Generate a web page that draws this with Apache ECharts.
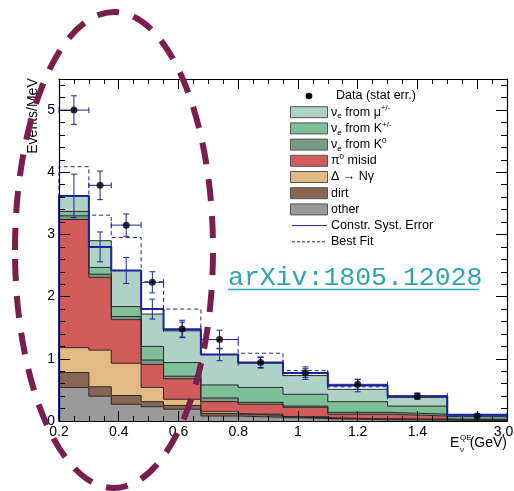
<!DOCTYPE html>
<html>
<head>
<meta charset="utf-8">
<script src="https://cdn.jsdelivr.net/npm/echarts@6/dist/echarts.min.js"></script>
<style>
  html, body { margin: 0; padding: 0; background: #fff; }
  #chart { width: 514px; height: 491px; }
</style>
</head>
<body>
<div id="chart"></div>
<script>
// bin edges in GeV, the last bin (1.5 - 3.0) is squeezed on the axis
var binEdges = [0.2, 0.3, 0.375, 0.475, 0.55, 0.675, 0.8, 0.95, 1.1, 1.3, 1.5, 3.0];

// stacked predictions, events/MeV, bottom to top
var otherVals = [0.54, 0.40, 0.27, 0.23, 0.19, 0.08, 0.06, 0.04, 0.02, 0.015, 0.005];
var dirtVals  = [0.24, 0.15, 0.14, 0.08, 0.06, 0.04, 0.03, 0.015, 0.01, 0.01, 0.003];
var deltaVals = [0.40, 0.59, 0.52, 0.23, 0.10, 0.03, 0.02, 0.015, 0.005, 0.005, 0.002];
var pi0Vals   = [2.06, 1.17, 0.70, 0.37, 0.33, 0.16, 0.16, 0.15, 0.075, 0.05, 0.01];
var k0Vals    = [0.06, 0.05, 0.05, 0.07, 0.04, 0.06, 0.03, 0.02, 0.03, 0.03, 0.01];
var kpmVals   = [0.07, 0.11, 0.16, 0.22, 0.22, 0.21, 0.24, 0.19, 0.17, 0.13, 0.04];
var muVals    = [0.25, 0.43, 0.58, 0.52, 0.51, 0.49, 0.39, 0.30, 0.20, 0.14, 0.03];

// constrained prediction + syst error, best fit, data
var constrVals  = [3.62, 2.80, 2.42, 1.80, 1.47, 1.07, 0.94, 0.77, 0.57, 0.40, 0.10];
var constrErr   = [0.35, 0.24, 0.21, 0.16, 0.12, 0.10, 0.08, 0.07, 0.10, 0.04, 0.01];
var bestFitVals = [4.09, 3.31, 2.95, 2.24, 1.80, 1.31, 1.09, 0.81, 0.55, 0.40, 0.10];
var dataVals    = [5.00, 3.79, 3.15, 2.23, 1.48, 1.31, 0.94, 0.77, 0.59, 0.40, 0.08];
var dataErr     = [0.23, 0.23, 0.18, 0.17, 0.14, 0.15, 0.09, 0.10, 0.08, 0.05, 0.02];

var legendLabels = [
  'Data (stat err.)',
  'ν{sub|e} from μ{sup|+/-}',
  'ν{sub|e} from K{sup|+/-}',
  'ν{sub|e} from K{sup|0}',
  'π{sup|0} misid',
  'Δ → Nγ',
  'dirt',
  'other',
  'Constr. Syst. Error',
  'Best Fit'
];

var blue = '#1c2499';
var layerColors = ['#9a9a9a', '#8b6553', '#e3b984', '#d25c5c', '#7a9a88', '#7dbf98', '#b0d2c6'];
var layerVals = [otherVals, dirtVals, deltaVals, pi0Vals, k0Vals, kpmVals, muVals];

// 0.2-1.5 linear, 1.5-3.0 drawn as 0.2 wide
function axisX(e) {
  return e <= 1.5 ? e : 1.5 + (e - 1.5) * 0.2 / 1.5;
}

function stepData(vals) {
  var d = vals.map(function (v, i) { return [axisX(binEdges[i]), v]; });
  d.push([axisX(binEdges[vals.length]), vals[vals.length - 1]]);
  return d;
}

function errData(vals, errs) {
  return vals.map(function (v, i) {
    var xc = axisX((binEdges[i] + binEdges[i + 1]) / 2);
    return [xc, v, errs[i], axisX(binEdges[i]), axisX(binEdges[i + 1])];
  });
}

function errorBars(withHoriz) {
  return function (params, api) {
    var xc = api.value(0), y = api.value(1), e = api.value(2);
    var p = api.coord([xc, y]);
    var pt = api.coord([xc, y + e]);
    var pb = api.coord([xc, y - e]);
    var st = { stroke: blue, lineWidth: 1 };
    var kids = [
      { type: 'line', shape: { x1: p[0], y1: pt[1], x2: p[0], y2: pb[1] }, style: st },
      { type: 'line', shape: { x1: p[0] - 3, y1: pt[1], x2: p[0] + 3, y2: pt[1] }, style: st },
      { type: 'line', shape: { x1: p[0] - 3, y1: pb[1], x2: p[0] + 3, y2: pb[1] }, style: st }
    ];
    if (withHoriz) {
      var pl = api.coord([api.value(3), y]);
      var pr = api.coord([api.value(4), y]);
      kids.push({ type: 'line', shape: { x1: pl[0], y1: p[1], x2: pr[0], y2: p[1] }, style: st });
      kids.push({ type: 'line', shape: { x1: pl[0], y1: p[1] - 3, x2: pl[0], y2: p[1] + 3 }, style: st });
      kids.push({ type: 'line', shape: { x1: pr[0], y1: p[1] - 3, x2: pr[0], y2: p[1] + 3 }, style: st });
    }
    return { type: 'group', children: kids };
  };
}

// cumulative sums, drawn from the top layer down so lower ones cover
var cumul = [];
layerVals.forEach(function (vals, k) {
  cumul.push(vals.map(function (v, i) { return (k ? cumul[k - 1][i] : 0) + v; }));
});

var series = [];
for (var k = layerVals.length - 1; k >= 0; k--) {
  series.push({
    type: 'line',
    step: 'end',
    data: stepData(cumul[k]),
    symbol: 'none',
    lineStyle: { color: '#2a2a2a', width: 1 },
    areaStyle: { color: layerColors[k], opacity: 1, origin: 'start' },
    z: 2
  });
}

series.push({
  type: 'line',
  step: 'end',
  data: [[0.2, 0]].concat(stepData(constrVals)),
  symbol: 'none',
  lineStyle: { color: blue, width: 2 },
  z: 4
});
series.push({
  type: 'line',
  step: 'end',
  data: [[0.2, 0]].concat(stepData(bestFitVals)),
  symbol: 'none',
  lineStyle: { color: blue, width: 1, type: [4, 3] },
  z: 4
});
series.push({
  type: 'custom',
  renderItem: errorBars(false),
  data: errData(constrVals, constrErr),
  z: 5
});
series.push({
  type: 'custom',
  renderItem: errorBars(true),
  data: errData(dataVals, dataErr),
  z: 5
});
series.push({
  type: 'scatter',
  data: errData(dataVals, dataErr).map(function (d) { return [d[0], d[1]]; }),
  symbolSize: 7,
  itemStyle: { color: '#000' },
  z: 6
});

var font = 'Liberation Sans';
function xAxisCfg(pos) {
  return {
    type: 'value', position: pos, min: 0.2, max: 1.7, interval: 0.2, z: 10,
    axisLine: { show: true, onZero: false, lineStyle: { color: '#000', width: 1.2 } },
    axisTick: { show: true, inside: true, length: 10, lineStyle: { color: '#000' } },
    minorTick: { show: true, splitNumber: 4, length: 5, lineStyle: { color: '#000' } },
    splitLine: { show: false },
    axisLabel: {
      show: pos === 'bottom', margin: 4, color: '#000', fontSize: 14, fontFamily: font,
      showMaxLabel: true, showMinLabel: true,
      formatter: function (v) {
        if (v > 1.69) return '{r|3.0}';
        if (Math.abs(v - 1.6) < 1e-6) return '';
        return String(+v.toFixed(2));
      },
      rich: { r: { fontSize: 14, fontFamily: font, color: '#000', padding: [0, 7, 0, 0] } }
    }
  };
}
function yAxisCfg(pos) {
  return {
    type: 'value', position: pos, min: 0, max: 5.5, interval: 1, z: 10,
    axisLine: { show: true, onZero: false, lineStyle: { color: '#000', width: 1.2 } },
    axisTick: { show: true, inside: true, length: 11, lineStyle: { color: '#000' } },
    minorTick: { show: true, splitNumber: 5, length: 6, lineStyle: { color: '#000' } },
    splitLine: { show: false },
    axisLabel: {
      show: pos === 'left', margin: 4, color: '#000', fontSize: 14, fontFamily: font,
      showMaxLabel: false
    }
  };
}

// legend drawn by hand (ROOT style)
var legendKinds = ['dot', 'box', 'box', 'box', 'box', 'box', 'box', 'box', 'line', 'dash'];
var legendFills = [null, layerColors[6], layerColors[5], layerColors[4], layerColors[3],
                   layerColors[2], layerColors[1], layerColors[0], null, null];
var legendGraphics = [];
legendLabels.forEach(function (lab, i) {
  var y = 96 + i * 16.2;
  var kind = legendKinds[i];
  if (kind === 'dot') {
    legendGraphics.push({ type: 'circle', shape: { cx: 309, cy: y, r: 3.3 }, style: { fill: '#000' } });
  } else if (kind === 'box') {
    legendGraphics.push({ type: 'rect', shape: { x: 290.5, y: y - 5.5, width: 37, height: 11 },
      style: { fill: legendFills[i], stroke: '#555', lineWidth: 1 } });
  } else {
    legendGraphics.push({ type: 'line', shape: { x1: 292, y1: y, x2: 327, y2: y },
      style: { stroke: blue, lineWidth: 1, lineDash: kind === 'dash' ? [3, 2] : null } });
  }
  legendGraphics.push({
    type: 'text', x: i === 0 ? 336 : 331, y: y,
    style: {
      text: lab, fill: '#000', fontSize: 12.5, fontFamily: font, lineHeight: 16,
      verticalAlign: 'middle', align: 'left',
      rich: {
        sub: { fontSize: 8, lineHeight: 8, verticalAlign: 'bottom', fontFamily: font },
        sup: { fontSize: 8, lineHeight: 8, verticalAlign: 'top', fontFamily: font }
      }
    }
  });
});

var chart = echarts.init(document.getElementById('chart'));
chart.setOption({
  animation: false,
  backgroundColor: '#fff',
  grid: { left: 59, right: 7, top: 79, bottom: 70, containLabel: false, outerBoundsMode: 'none' },
  xAxis: [xAxisCfg('bottom'), xAxisCfg('top')],
  yAxis: [yAxisCfg('left'), yAxisCfg('right')],
  series: series,
  graphic: legendGraphics.concat([
    { type: 'text', x: 33, y: 116, rotation: Math.PI / 2,
      style: { text: 'Events/MeV', fontSize: 14, fontFamily: font, fill: '#000', align: 'center', verticalAlign: 'middle' } },
    { type: 'text', x: 450, y: 443,
      style: { text: 'E', fontSize: 14, fontFamily: font, fill: '#000', verticalAlign: 'middle' } },
    { type: 'text', x: 460, y: 438,
      style: { text: 'QE', fontSize: 8, fontFamily: font, fill: '#000', verticalAlign: 'middle' } },
    { type: 'text', x: 460, y: 450,
      style: { text: 'ν', fontSize: 8, fontFamily: font, fill: '#000', verticalAlign: 'middle' } },
    { type: 'text', x: 507, y: 443,
      style: { text: '(GeV)', fontSize: 14, fontFamily: font, fill: '#000', align: 'right', verticalAlign: 'middle' } },
    { type: 'text', x: 228, y: 278, z: 50,
      style: { text: 'arXiv:1805.12028', fontSize: 26.5, fontFamily: 'Liberation Mono', fill: '#2fa3af', verticalAlign: 'middle' } },
    { type: 'line', z: 50, shape: { x1: 228, y1: 289.5, x2: 479, y2: 289.5 }, style: { stroke: '#2fa3af', lineWidth: 1.5 } },
    { type: 'ellipse', z: 100, shape: { cx: 114, cy: 250, rx: 99, ry: 238 },
      style: { fill: null, stroke: '#7a1e4e', lineWidth: 6, lineDash: [22, 15] } }
  ])
});
</script>
</body>
</html>
